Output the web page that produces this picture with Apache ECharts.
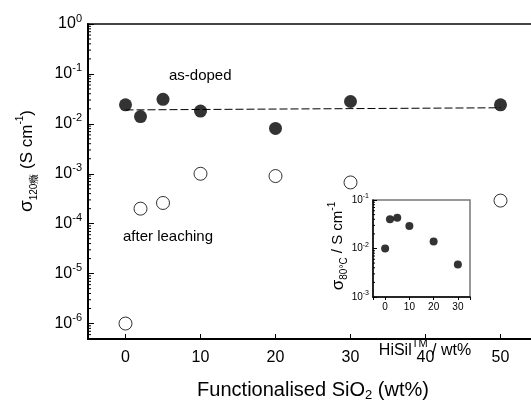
<!DOCTYPE html>
<html>
<head>
<meta charset="utf-8">
<script src="https://cdn.jsdelivr.net/npm/echarts@6/dist/echarts.min.js"></script>
<style>html,body{margin:0;padding:0;background:#fff}#c{width:531px;height:401px}</style>
</head>
<body>
<div id="c"></div>
<script>
// ---- data ----
const xWt = [0, 2, 5, 10, 20, 30, 50];
const yDoped = [0.024, 0.014, 0.031, 0.018, 0.0081, 0.028, 0.024];
const yLeached = [1e-6, 2e-4, 2.6e-4, 1e-3, 9e-4, 6.7e-4, 2.9e-4];
const fitX = [0, 50];
const fitY = [0.019, 0.021];
const insetX = [0, 2, 5, 10, 20, 30];
const insetY = [0.010, 0.040, 0.043, 0.029, 0.014, 0.0047];
const mainMinorTicks = [5e-7,6e-7,7e-7,8e-7,9e-7,
  2e-6,3e-6,4e-6,5e-6,6e-6,7e-6,8e-6,9e-6,
  2e-5,3e-5,4e-5,5e-5,6e-5,7e-5,8e-5,9e-5,
  2e-4,3e-4,4e-4,5e-4,6e-4,7e-4,8e-4,9e-4,
  2e-3,3e-3,4e-3,5e-3,6e-3,7e-3,8e-3,9e-3,
  0.02,0.03,0.04,0.05,0.06,0.07,0.08,0.09,
  0.2,0.3,0.4,0.5,0.6,0.7,0.8,0.9];
const insetMinorTicks = [2e-3,3e-3,4e-3,5e-3,6e-3,7e-3,8e-3,9e-3,
  0.02,0.03,0.04,0.05,0.06,0.07,0.08,0.09];

const FONT = "'Liberation Sans', Arial, sans-serif";
const chart = echarts.init(document.getElementById('c'), null, {renderer: 'canvas'});

function powLabel(v) {
  const e = Math.log10(v);
  const r = Math.round(e);
  if (Math.abs(e - r) > 1e-6) return '';
  return '{b|10}{s|' + r + '}';
}
function tenLabel(v) {
  return (Math.abs(v % 10) < 1e-9) ? String(v) : '';
}
function minorTickRender(len) {
  return function (params, api) {
    const p = api.coord([api.value(0), api.value(1)]);
    const x0 = params.coordSys.x;
    return {type: 'line', shape: {x1: x0, y1: p[1], x2: x0 + len, y2: p[1]},
      style: {stroke: '#000', lineWidth: 1}};
  };
}

const option = {
  animation: false,
  backgroundColor: '#fff',
  textStyle: {fontFamily: FONT},
  grid: [
    {left: 88, top: 24, right: -7, bottom: 62, show: true, borderColor: '#444', borderWidth: 2,
      backgroundColor: 'transparent', containLabel: false, outerBoundsMode: 'none'},
    {left: 373, top: 200, width: 97, height: 97, show: true, borderColor: '#777', borderWidth: 1.5,
      backgroundColor: 'transparent', containLabel: false, outerBoundsMode: 'none'}
  ],
  xAxis: [
    {type: 'value', gridIndex: 0, min: -5, max: 55,
      splitLine: {show: false},
      axisLine: {onZero: false, lineStyle: {color: '#000', width: 2}},
      axisTick: {inside: true, length: 5, lineStyle: {color: '#000', width: 1}},
      axisLabel: {formatter: tenLabel, color: '#000', fontSize: 16, margin: 11, fontFamily: FONT},
      name: '{n|Functionalised SiO}{sub|2}{n| (wt%)}', nameLocation: 'middle', nameGap: 39,
      nameTextStyle: {rich: {
        n: {fontSize: 20, lineHeight: 24, color: '#000', fontFamily: FONT},
        sub: {fontSize: 13, lineHeight: 13, verticalAlign: 'bottom', color: '#000', fontFamily: FONT}
      }}
    },
    {type: 'value', gridIndex: 1, min: -5, max: 35,
      splitLine: {show: false},
      axisLine: {onZero: false, lineStyle: {color: '#000', width: 1.5}},
      axisTick: {inside: false, length: 3, lineStyle: {color: '#000'}},
      axisLabel: {formatter: tenLabel, color: '#000', fontSize: 10, margin: 5, fontFamily: FONT}
    }
  ],
  yAxis: [
    {type: 'log', gridIndex: 0, min: 4.9e-7, max: 1, logBase: 10,
      splitLine: {show: false},
      axisLine: {onZero: false, lineStyle: {color: '#000', width: 2}},
      axisTick: {inside: true, length: 6, lineStyle: {color: '#000', width: 1}},
      axisLabel: {formatter: powLabel, margin: 6, rich: {
        b: {fontSize: 16, lineHeight: 22, color: '#000', fontFamily: FONT},
        s: {fontSize: 11, lineHeight: 11, verticalAlign: 'top', color: '#000', fontFamily: FONT}
      }}
    },
    {type: 'log', gridIndex: 1, min: 1e-3, max: 1e-1, logBase: 10,
      splitLine: {show: false},
      axisLine: {onZero: false, lineStyle: {color: '#000', width: 1.5}},
      axisTick: {inside: true, length: 4, lineStyle: {color: '#000', width: 1}},
      axisLabel: {formatter: powLabel, margin: 4, rich: {
        b: {fontSize: 10, lineHeight: 14, color: '#000', fontFamily: FONT},
        s: {fontSize: 7, lineHeight: 7, verticalAlign: 'top', color: '#000', fontFamily: FONT}
      }}
    }
  ],
  series: [
    {type: 'custom', xAxisIndex: 0, yAxisIndex: 0, renderItem: minorTickRender(3),
      data: mainMinorTicks.map(v => [0, v]), silent: true, z: 1},
    {type: 'custom', xAxisIndex: 1, yAxisIndex: 1, renderItem: minorTickRender(2),
      data: insetMinorTicks.map(v => [0, v]), silent: true, z: 1},
    {type: 'line', xAxisIndex: 0, yAxisIndex: 0, data: fitX.map((x, i) => [x, fitY[i]]),
      symbol: 'none', lineStyle: {color: '#000', width: 1, type: [8, 3]}, z: 2, silent: true},
    {type: 'scatter', xAxisIndex: 0, yAxisIndex: 0, data: xWt.map((x, i) => [x, yDoped[i]]),
      symbol: 'circle', symbolSize: 13, itemStyle: {color: '#000'}, z: 3},
    {type: 'scatter', xAxisIndex: 0, yAxisIndex: 0, data: xWt.map((x, i) => [x, yLeached[i]]),
      symbol: 'circle', symbolSize: 13, itemStyle: {color: '#fff', borderColor: '#000', borderWidth: 1}, z: 3},
    {type: 'scatter', xAxisIndex: 1, yAxisIndex: 1, data: insetX.map((x, i) => [x, insetY[i]]),
      symbol: 'circle', symbolSize: 8, itemStyle: {color: '#000'}, z: 3}
  ],
  graphic: [
    {type: 'text', left: 169, top: 68, style: {text: 'as-doped', font: '15px ' + FONT, fill: '#000'}},
    {type: 'text', left: 123, top: 229, style: {text: 'after leaching', font: '15px ' + FONT, fill: '#000'}},
    {type: 'text', x: 27, y: 161, rotation: Math.PI / 2,
      style: {text: '{g|σ}{sub|120癥}{n| (S cm}{sup|-1}{n|)}', align: 'center', verticalAlign: 'middle',
        rich: {
          g: {fontSize: 19, lineHeight: 24, fill: '#000', fontFamily: FONT},
          n: {fontSize: 17, lineHeight: 24, fill: '#000', fontFamily: FONT},
          sub: {fontSize: 10, lineHeight: 10, verticalAlign: 'bottom', fill: '#000', fontFamily: FONT},
          sup: {fontSize: 10, lineHeight: 10, verticalAlign: 'top', fill: '#000', fontFamily: FONT}
        }}},
    {type: 'text', x: 338, y: 246, rotation: Math.PI / 2,
      style: {text: '{g|σ}{sub|80°C}{n| / S cm}{sup|-1}', align: 'center', verticalAlign: 'middle',
        rich: {
          g: {fontSize: 17, lineHeight: 22, fill: '#000', fontFamily: FONT},
          n: {fontSize: 15, lineHeight: 22, fill: '#000', fontFamily: FONT},
          sub: {fontSize: 10, lineHeight: 10, verticalAlign: 'bottom', fill: '#000', fontFamily: FONT},
          sup: {fontSize: 10, lineHeight: 10, verticalAlign: 'top', fill: '#000', fontFamily: FONT}
        }}},
    {type: 'text', x: 425, y: 351,
      style: {text: '{n|HiSil}{sup|TM}{n| / wt%}', align: 'center', verticalAlign: 'middle',
        rich: {
          n: {fontSize: 16, lineHeight: 26, fill: '#000', fontFamily: FONT},
          sup: {fontSize: 11, lineHeight: 11, verticalAlign: 'top', fill: '#000', fontFamily: FONT}
        }}}
  ]
};
chart.setOption(option);
</script>
</body>
</html>
